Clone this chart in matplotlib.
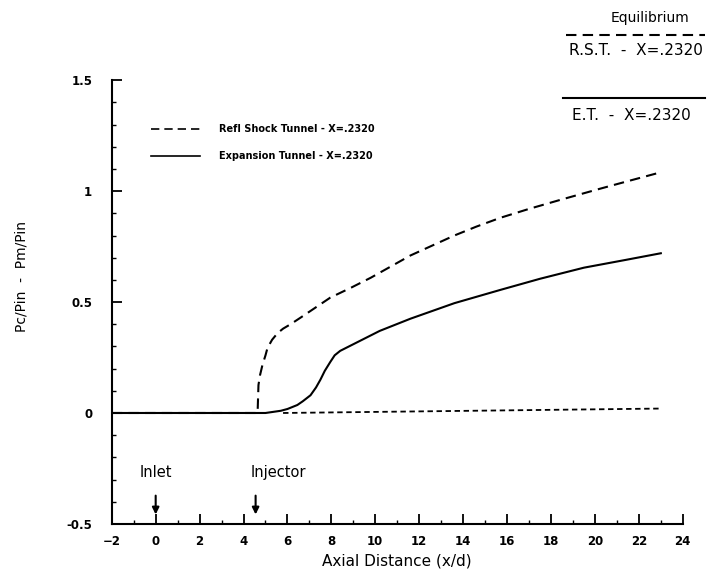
import matplotlib
matplotlib.use("Agg")
import matplotlib.pyplot as plt
from matplotlib.ticker import MultipleLocator

# Reflected shock tunnel (dashed)
rst_x = [-2, 4.64, 4.68, 4.75, 4.86, 5.0, 5.09, 5.3, 5.55, 5.8, 6.14, 6.6, 7.05, 7.5, 7.95, 8.9, 9.8, 10.7,
         11.6, 12.6, 13.6, 14.6, 15.7, 17.0, 18.4, 19.3, 20.2, 21.5, 23.0]
rst_y = [0, 0, 0.126, 0.17, 0.216, 0.26, 0.293, 0.33, 0.36, 0.38, 0.40, 0.43, 0.46, 0.49, 0.52, 0.565, 0.61, 0.66,
         0.71, 0.755, 0.80, 0.84, 0.88, 0.92, 0.96, 0.985, 1.01, 1.045, 1.085]

# Expansion tunnel (solid)
et_x = [-2, 5.0, 5.7, 6.0, 6.45, 6.7, 7.05, 7.3, 7.5, 7.7, 7.95, 8.15, 8.4, 8.8, 9.2, 10.2, 11.6, 13.6,
        15.7, 17.5, 19.5, 21.4, 23.0]
et_y = [0, 0, 0.01, 0.018, 0.036, 0.053, 0.08, 0.115, 0.15, 0.19, 0.23, 0.26, 0.28, 0.30, 0.32, 0.37, 0.425, 0.495,
        0.555, 0.605, 0.655, 0.69, 0.72]

# Equilibrium reference (short dashes)
eq_x = [5.8, 23.0]
eq_y = [0.0, 0.02]

x_ticks = [-2, 0, 2, 4, 6, 8, 10, 12, 14, 16, 18, 20, 22, 24]
y_ticks = [-0.5, 0, 0.5, 1, 1.5]
y_ticklabels = ["-0.5", "0", "0.5", "1", "1.5"]

fig = plt.figure(figsize=(7.21, 5.77), dpi=100)
ax = fig.add_axes([0.155, 0.092, 0.792, 0.769])

ax.plot(rst_x, rst_y, color="black", lw=1.5, ls=(0, (5, 3)))
ax.plot(et_x, et_y, color="black", lw=1.5, ls="-")
ax.plot(eq_x, eq_y, color="black", lw=1.3, ls=(0, (3, 2)))

ax.set_xlim(-2, 24)
ax.set_ylim(-0.5, 1.5)
ax.spines["top"].set_visible(False)
ax.spines["right"].set_visible(False)
ax.spines["left"].set_linewidth(1.5)
ax.spines["bottom"].set_linewidth(1.5)
ax.set_xticks(x_ticks)
ax.set_yticks(y_ticks)
ax.set_yticklabels(y_ticklabels)
ax.xaxis.set_minor_locator(MultipleLocator(1))
ax.yaxis.set_minor_locator(MultipleLocator(0.1))
ax.tick_params(which="major", direction="in", length=7, width=1.3, labelsize=8.5)
ax.tick_params(which="minor", direction="in", length=3, width=1.0)
ax.tick_params(axis="x", pad=8)
ax.tick_params(axis="y", pad=14)
for lab in ax.get_xticklabels() + ax.get_yticklabels():
    lab.set_fontweight("bold")

ax.set_xlabel("Axial Distance (x/d)", fontsize=11, labelpad=4)
fig.text(0.03, 0.52, "Pc/Pin  -  Pm/Pin", rotation=90, fontsize=10, ha="center", va="center")

# in-axes legend
ax.plot([-0.2, 2.0], [1.28, 1.28], color="black", lw=1.2, ls=(0, (5, 3)))
ax.text(2.9, 1.28, "Refl Shock Tunnel - X=.2320", fontsize=7, va="center", fontweight="bold")
ax.plot([-0.2, 2.0], [1.16, 1.16], color="black", lw=1.2, ls="-")
ax.text(2.9, 1.16, "Expansion Tunnel - X=.2320", fontsize=7, va="center", fontweight="bold")

# annotations
ax.text(0, -0.3, "Inlet", fontsize=10.5, ha="center", va="bottom")
ax.annotate("", xy=(0, -0.47), xytext=(0, -0.36),
            arrowprops=dict(arrowstyle="-|>", color="black", lw=1.5, mutation_scale=10))
ax.text(5.6, -0.3, "Injector", fontsize=10.5, ha="center", va="bottom")
ax.annotate("", xy=(4.55, -0.47), xytext=(4.55, -0.36),
            arrowprops=dict(arrowstyle="-|>", color="black", lw=1.5, mutation_scale=10))

# top-right equilibrium key (figure coordinates)
fig.text(0.902, 0.968, "Equilibrium", fontsize=10, ha="center", va="center")
fig.lines.append(plt.Line2D([0.785, 0.978], [0.940, 0.940], transform=fig.transFigure,
                            color="black", lw=1.5, ls=(0, (5, 3))))
fig.text(0.882, 0.913, "R.S.T.  -  X=.2320", fontsize=11, ha="center", va="center")
fig.lines.append(plt.Line2D([0.781, 0.978], [0.830, 0.830], transform=fig.transFigure,
                            color="black", lw=1.5, ls="-"))
fig.text(0.875, 0.800, "E.T.  -  X=.2320", fontsize=11, ha="center", va="center")

fig.savefig("out.png", dpi=100)
